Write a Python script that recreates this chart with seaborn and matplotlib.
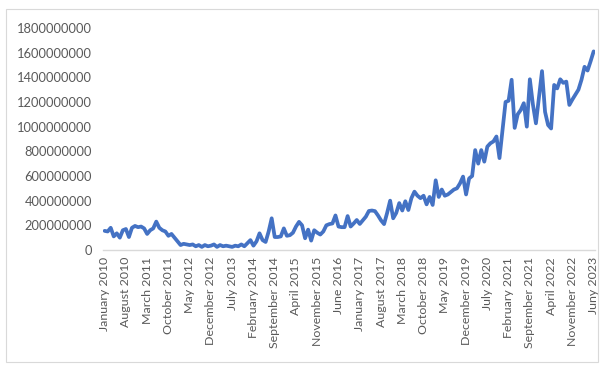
import matplotlib
matplotlib.use("Agg")
import matplotlib.pyplot as plt
import matplotlib.patches as mpatches
import numpy as np
import pandas as pd
import seaborn as sns

# Monthly values, January 2010 .. June 2023 (in millions)
values_millions = [
    155, 150, 180, 110, 135, 100, 160, 170, 105, 180, 195, 185,
    190, 175, 130, 160, 175, 230, 180, 160, 150, 115, 130, 100,
    70, 40, 50, 45, 40, 45, 30, 40, 25, 40, 30, 35,
    45, 25, 40, 30, 35, 30, 25, 35, 30, 45, 30, 55,
    80, 35, 70, 135, 80, 65, 150, 257, 105, 105, 110, 175,
    115, 120, 140, 190, 228, 200, 95, 165, 76, 160, 140, 125,
    150, 200, 210, 215, 280, 190, 185, 185, 275, 190, 215, 243,
    211, 240, 270, 316, 320, 315, 280, 240, 210, 300, 400, 257,
    300, 380, 320, 395, 324, 420, 473, 440, 420, 440, 370, 430,
    365, 565, 430, 490, 440, 450, 470, 490, 500, 540, 595, 450,
    580, 600, 810, 700, 810, 716, 838, 865, 880, 920, 745, 975,
    1200, 1210, 1380, 990, 1100, 1135, 1190, 1000, 1384, 1180, 1027, 1240,
    1450, 1120, 1013, 985, 1338, 1310, 1384, 1355, 1365, 1176, 1220, 1260,
    1300, 1380, 1485, 1455, 1530, 1610,
]

tick_labels = [
    "January 2010", "August 2010", "March 2011", "October 2011", "May 2012",
    "December 2012", "July 2013", "February 2014", "September 2014",
    "April 2015", "November 2015", "June 2016", "January 2017",
    "August 2017", "March 2018", "October 2018", "May 2019",
    "December 2019", "July 2020", "February 2021", "September 2021",
    "April 2022", "November 2022", "Juny 2023",
]

y_ticks = [0, 200000000, 400000000, 600000000, 800000000, 1000000000,
           1200000000, 1400000000, 1600000000, 1800000000]

df = pd.DataFrame({
    "month": np.arange(len(values_millions)),
    "value": np.array(values_millions, dtype=float) * 1e6,
})

sns.set_theme(style="white")
plt.rcParams["font.family"] = ["Lato", "DejaVu Sans"]

fig = plt.figure(figsize=(6.03, 3.68), dpi=100)
ax = fig.add_axes([0.171, 0.3207, 0.816, 0.6033])

sns.lineplot(data=df, x="month", y="value", ax=ax, color="#4472C4",
             linewidth=2.7, solid_joinstyle="round", solid_capstyle="round")

ax.set_xlim(-0.5, len(values_millions) - 0.5)
ax.set_ylim(0, 1800000000)
ax.set_yticks(y_ticks)
ax.set_yticklabels([str(v) for v in y_ticks])
ax.set_xticks(np.arange(0, len(values_millions), 7))
ax.set_xticklabels(tick_labels, rotation=90)
ax.set_xlabel("")
ax.set_ylabel("")

for side in ("left", "right", "top"):
    ax.spines[side].set_visible(False)
ax.spines["bottom"].set_color("#d9d9d9")
ax.spines["bottom"].set_linewidth(1.0)
ax.tick_params(axis="y", length=0, colors="#595959", labelsize=9.3, pad=8)
ax.tick_params(axis="x", length=0, colors="#595959", labelsize=8.9, pad=5)
ax.grid(False)

# Chart area border
fig.patches.append(mpatches.Rectangle(
    (6 / 603, 1 - 362 / 368), 592 / 603, 353 / 368,
    transform=fig.transFigure, fill=False, edgecolor="#d9d9d9", linewidth=0.8))

fig.savefig("out.png", dpi=100)
